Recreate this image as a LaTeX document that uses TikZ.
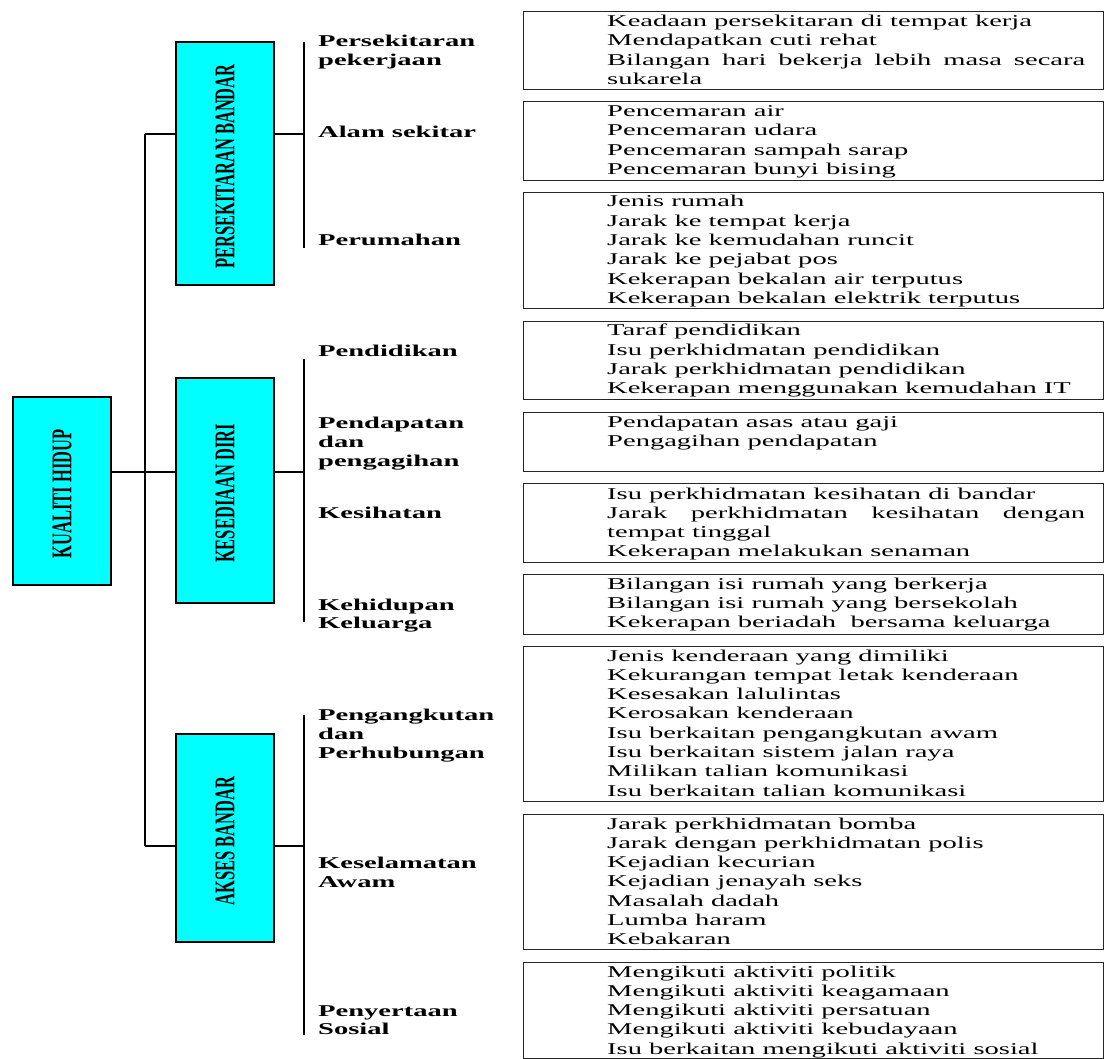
\documentclass[tikz,border=0pt]{standalone}
\usepackage{fontspec}
\setmainfont{Liberation Serif}[FakeStretch=1.73]
\newfontfamily\condfont{Liberation Serif}[FakeStretch=0.578]
\definecolor{aqua}{RGB}{0,255,255}
\tikzset{
  cbox/.style={draw=black, line width=1.5pt, fill=aqua, inner sep=0pt, minimum width=98pt},
  ibox/.style={draw=black!85, line width=1.3pt, inner sep=0pt, minimum width=580pt, anchor=north west},
  conn/.style={line width=1.4pt},
  bar/.style={line width=1.9pt},
  vlab/.style={rotate=90, inner sep=0pt, xshift=-3pt, font=\condfont\bfseries\fontsize{28.5}{30}\selectfont},
  lab/.style={anchor=base west, inner sep=0pt, font=\bfseries\fontsize{16.5}{19}\selectfont},
  txt/.style={anchor=base west, inner sep=0pt, font=\fontsize{16.5}{19}\selectfont},
}
\newcommand\itemlines[3]{\foreach \itm [count=\i] in {#3} {\node[txt] (#1-\i) at (607,{#2+(\i-1)*19.3}) {\itm};}}
\newcommand\ibx[3]{\node[ibox, minimum height={#3-#2}] (#1) at (523,#2) {};}
\begin{document}
\begin{tikzpicture}[x=1pt,y=-1pt]
\useasboundingbox (0,0) rectangle (1106,1059);
% main boxes
\node[cbox, minimum height=188pt] (kh) at (62,491) {};
\node[vlab] (kht) at (kh.center) {KUALITI HIDUP};
\node[cbox, minimum height=243pt] (pb) at (225,163.5) {};
\node[vlab] (pbt) at (pb.center) {PERSEKITARAN BANDAR};
\node[cbox, minimum height=225pt] (kd) at (225,490.5) {};
\node[vlab] (kdt) at (kd.center) {KESEDIAAN DIRI};
\node[cbox, minimum height=208pt] (ab) at (225,838) {};
\node[vlab] (abt) at (ab.center) {AKSES BANDAR};
% connectors
\coordinate (t1) at (145,134);
\coordinate (t2) at (145,472);
\coordinate (t3) at (145,846);
\coordinate (g1a) at (304,42);   \coordinate (g1b) at (304,248);
\coordinate (g2a) at (304,359);  \coordinate (g2b) at (304,622);
\coordinate (g3a) at (304,715);  \coordinate (g3b) at (304,1035);
\draw[conn] (t1) -- (t3);
\draw[conn] (t1) -- (pb.west |- t1);
\draw[conn] (kh.east |- t2) -- (kd.west |- t2);
\draw[conn] (t3) -- (ab.west |- t3);
\draw[conn] (pb.east |- t1) -- (g1a |- t1);
\draw[conn] (kd.east |- t2) -- (g2a |- t2);
\draw[conn] (ab.east |- t3) -- (g3a |- t3);
\draw[bar] (g1a) -- (g1b);
\draw[bar] (g2a) -- (g2b);
\draw[bar] (g3a) -- (g3b);
% sub labels
\node[lab] (l1a) at (318,46.7) {Persekitaran};
\node[lab] (l1b) at (318,65.5) {pekerjaan};
\node[lab] (l2) at (318,137.3) {Alam sekitar};
\node[lab] (l3) at (318,246) {Perumahan};
\node[lab] (l4) at (318,356.7) {Pendidikan};
\node[lab] (l5a) at (318,428.3) {Pendapatan};
\node[lab] (l5b) at (318,447.3) {dan};
\node[lab] (l5c) at (318,466.3) {pengagihan};
\node[lab] (l6) at (318,518.3) {Kesihatan};
\node[lab] (l7a) at (318,610) {Kehidupan};
\node[lab] (l7b) at (318,628.5) {Keluarga};
\node[lab] (l8a) at (318,720) {Pengangkutan};
\node[lab] (l8b) at (318,739) {dan};
\node[lab] (l8c) at (318,758) {Perhubungan};
\node[lab] (l9a) at (318,868.3) {Keselamatan};
\node[lab] (l9b) at (318,887) {Awam};
\node[lab] (l10a) at (318,1016) {Penyertaan};
\node[lab] (l10b) at (318,1034.5) {Sosial};
% item boxes
\ibx{b1}{11}{89}
\ibx{b2}{101}{180}
\ibx{b3}{192}{308}
\ibx{b4}{321}{399}
\ibx{b5}{412}{471}
\ibx{b6}{483}{562}
\ibx{b7}{574}{634}
\ibx{b8}{646}{801}
\ibx{b9}{814}{949}
\ibx{b10}{962}{1058}
% item texts
\itemlines{i1}{26.5}{Keadaan persekitaran di tempat kerja, Mendapatkan cuti rehat, \makebox[478pt][s]{Bilangan hari bekerja lebih masa secara}, sukarela}
\itemlines{i2}{116.5}{Pencemaran air, Pencemaran udara, Pencemaran sampah sarap, Pencemaran bunyi bising}
\itemlines{i3}{207}{Jenis rumah, Jarak ke tempat kerja, Jarak ke kemudahan runcit, Jarak ke pejabat pos, Kekerapan bekalan air terputus, Kekerapan bekalan elektrik terputus}
\itemlines{i4}{336}{Taraf pendidikan, Isu perkhidmatan pendidikan, Jarak perkhidmatan pendidikan, Kekerapan menggunakan kemudahan IT}
\itemlines{i5}{427}{Pendapatan asas atau gaji, Pengagihan pendapatan}
\itemlines{i6}{499}{Isu perkhidmatan kesihatan di bandar, \makebox[478pt][s]{Jarak perkhidmatan kesihatan dengan}, tempat tinggal, Kekerapan melakukan senaman}
\itemlines{i7}{589}{Bilangan isi rumah yang berkerja, Bilangan isi rumah yang bersekolah, Kekerapan beriadah\ \ bersama keluarga}
\itemlines{i8}{661}{Jenis kenderaan yang dimiliki, Kekurangan tempat letak kenderaan, Kesesakan lalulintas, Kerosakan kenderaan, Isu berkaitan pengangkutan awam, Isu berkaitan sistem jalan raya, Milikan talian komunikasi, Isu berkaitan talian komunikasi}
\itemlines{i9}{829}{Jarak perkhidmatan bomba, Jarak dengan perkhidmatan polis, Kejadian kecurian, Kejadian jenayah seks, Masalah dadah, Lumba haram, Kebakaran}
\itemlines{i10}{977}{Mengikuti aktiviti politik, Mengikuti aktiviti keagamaan, Mengikuti aktiviti persatuan, Mengikuti aktiviti kebudayaan, Isu berkaitan mengikuti aktiviti sosial}
\end{tikzpicture}
\end{document}
